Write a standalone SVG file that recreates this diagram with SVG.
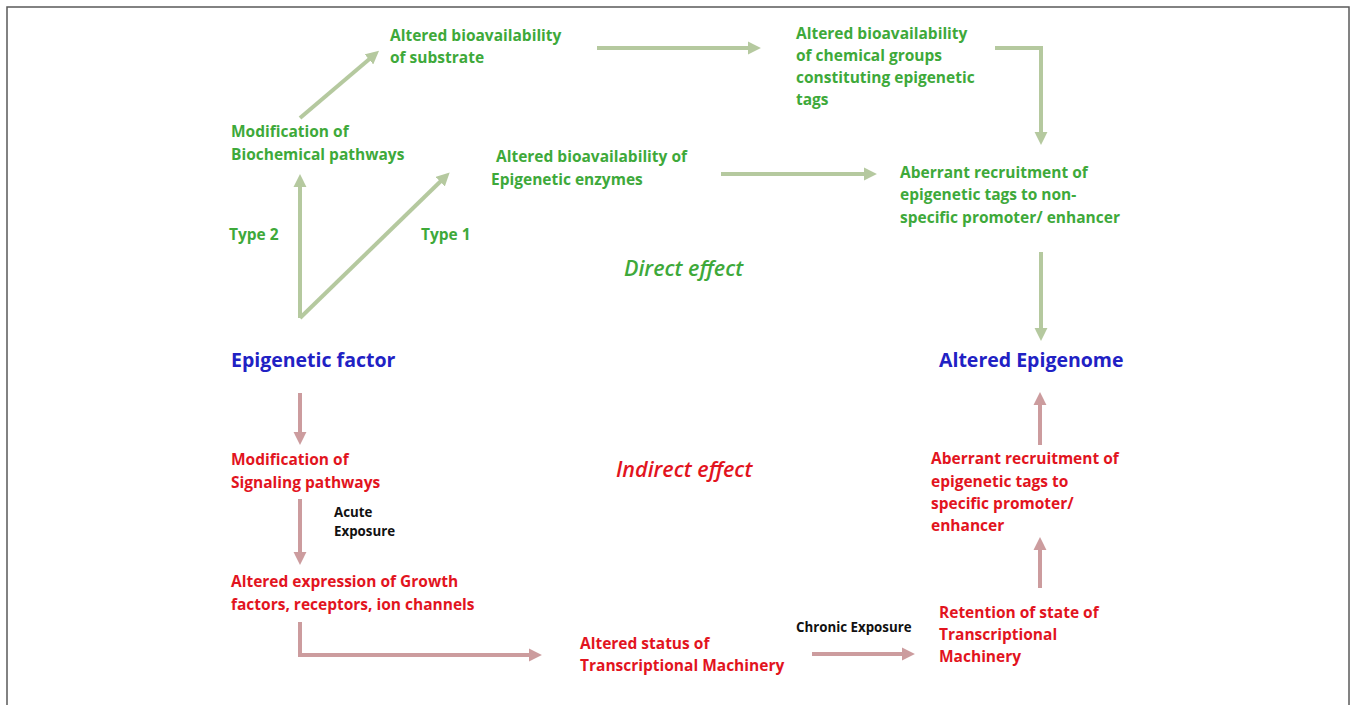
<svg xmlns="http://www.w3.org/2000/svg" width="1356" height="705" viewBox="0 0 1356 705">
<style>
text{font-family:"Open Sans","Liberation Sans",sans-serif;font-weight:700}
.g{fill:#3ea93a;font-size:15.5px}
.r{fill:#e2141e;font-size:15.5px}
.b{fill:#2121c4;font-size:19.5px}
.k{fill:#111;font-size:13.3px}
.it{font-style:italic;font-size:21.5px;font-weight:600}
.ga{stroke:#b5c99f;stroke-width:4;fill:none;marker-end:url(#mg)}
.ra{stroke:#cc9c9e;stroke-width:4;fill:none;marker-end:url(#mr)}
</style>
<defs>
<marker id="mg" viewBox="0 0 10 10" refX="4" refY="5" markerWidth="3.3" markerHeight="3.3" orient="auto"><path d="M0,0 L10,5 L0,10 z" fill="#b5c99f"/></marker>
<marker id="mr" viewBox="0 0 10 10" refX="4" refY="5" markerWidth="3.3" markerHeight="3.3" orient="auto"><path d="M0,0 L10,5 L0,10 z" fill="#cc9c9e"/></marker>
</defs>
<rect width="1356" height="705" fill="#fff"/>
<rect x="7" y="7" width="1342" height="720" fill="none" stroke="#5a5a5a" stroke-width="1.5"/>

<g id="connectors">
<path class="ga" d="M300,118 L373,56"/>
<path class="ga" d="M300,318 L300,182"/>
<path class="ga" d="M300,318 L444,178"/>
<path class="ga" d="M597,48 L753,48"/>
<path class="ga" d="M995,48 L1041,48 L1041,137"/>
<path class="ga" d="M721,174 L869,174"/>
<path class="ga" d="M1041,252 L1041,333"/>
<path class="ra" d="M300,393 L300,437"/>
<path class="ra" d="M300,499 L300,557"/>
<path class="ra" d="M300,622 L300,655 L534,655"/>
<path class="ra" d="M812,654 L907,654"/>
<path class="ra" d="M1040,588 L1040,545"/>
<path class="ra" d="M1040,445 L1040,400"/>
</g>

<g id="n-substrate"><text class="g" x="390" y="41">Altered bioavailability</text><text class="g" x="390" y="63">of substrate</text></g>
<g id="n-biochem"><text class="g" x="231" y="137">Modification of</text><text class="g" x="231" y="160">Biochemical pathways</text></g>
<g id="n-enzymes"><text class="g" x="496" y="162">Altered bioavailability of</text><text class="g" x="491" y="185">Epigenetic enzymes</text></g>
<g id="l-type2"><text class="g" x="229" y="240">Type 2</text></g>
<g id="l-type1"><text class="g" x="421" y="240">Type 1</text></g>
<g id="l-direct"><text class="g it" x="624" y="276">Direct effect</text></g>
<g id="n-chemgroups"><text class="g" x="796" y="39">Altered bioavailability</text><text class="g" x="796" y="61">of chemical groups</text><text class="g" x="796" y="83">constituting epigenetic</text><text class="g" x="796" y="105">tags</text></g>
<g id="n-nonspecific"><text class="g" x="900" y="178">Aberrant recruitment of</text><text class="g" x="900" y="200">epigenetic tags to non-</text><text class="g" x="900" y="223">specific promoter/ enhancer</text></g>
<g id="n-factor"><text class="b" x="231" y="367">Epigenetic factor</text></g>
<g id="n-epigenome"><text class="b" x="939" y="367">Altered Epigenome</text></g>
<g id="n-signaling"><text class="r" x="231" y="465">Modification of</text><text class="r" x="231" y="488">Signaling pathways</text></g>
<g id="l-acute"><text class="k" x="334" y="517">Acute</text><text class="k" x="334" y="536">Exposure</text></g>
<g id="l-indirect"><text class="r it" x="616" y="477">Indirect effect</text></g>
<g id="n-growth"><text class="r" x="231" y="587">Altered expression of Growth</text><text class="r" x="231" y="610">factors, receptors, ion channels</text></g>
<g id="n-status"><text class="r" x="580" y="649">Altered status of</text><text class="r" x="580" y="671">Transcriptional Machinery</text></g>
<g id="l-chronic"><text class="k" x="796" y="632">Chronic Exposure</text></g>
<g id="n-retention"><text class="r" x="939" y="618">Retention of state of</text><text class="r" x="939" y="640">Transcriptional</text><text class="r" x="939" y="662">Machinery</text></g>
<g id="n-specific"><text class="r" x="931" y="464">Aberrant recruitment of</text><text class="r" x="931" y="487">epigenetic tags to</text><text class="r" x="931" y="509">specific promoter/</text><text class="r" x="931" y="531">enhancer</text></g>
</svg>
